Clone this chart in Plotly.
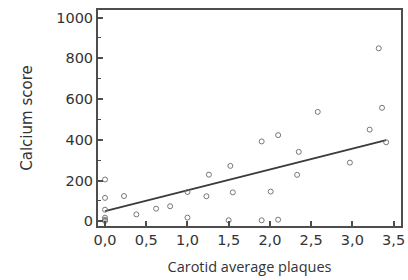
import plotly.graph_objects as go

# Scatter data: carotid average plaques vs calcium score
plaques = [0.0, 0.0, 0.0, 0.0, 0.0, 0.0, 0.23, 0.38, 0.62, 0.79, 1.0, 1.0,
           1.23, 1.26, 1.50, 1.52, 1.55, 1.90, 1.90, 2.01, 2.10, 2.10,
           2.33, 2.35, 2.58, 2.97, 3.21, 3.32, 3.36, 3.41]
calcium = [205, 115, 57, 18, 8, 2, 124, 34, 62, 74, 144, 18,
           123, 229, 5, 272, 142, 392, 5, 146, 423, 8,
           228, 341, 537, 288, 450, 849, 557, 388]

# Regression line endpoints
fit_x = [0.0, 3.41]
fit_y = [50, 398]

x_ticks = [0.0, 0.5, 1.0, 1.5, 2.0, 2.5, 3.0, 3.5]
y_ticks = [0, 200, 400, 600, 800, 1000]

fig = go.Figure()
fig.add_trace(go.Scatter(x=fit_x, y=fit_y, mode="lines",
                         line=dict(color="#3a3a3a", width=1.8), showlegend=False))
fig.add_trace(go.Scatter(x=plaques, y=calcium, mode="markers",
                         marker=dict(symbol="circle-open", size=5,
                                     color="#777777", line=dict(width=1)),
                         showlegend=False))

axis_common = dict(showgrid=False, zeroline=False, showline=True, mirror=True,
                   linecolor="#4d4d4d", linewidth=2, ticks="inside",
                   tickcolor="#4d4d4d", tickwidth=2, ticklen=5, automargin=False,
                   tickfont=dict(family="DejaVu Sans", size=14.5, color="#333333"))

fig.update_layout(
    width=408, height=280,
    margin=dict(l=98, r=7, t=10, b=54),
    paper_bgcolor="white", plot_bgcolor="white",
    separators=",.",
    xaxis=dict(range=[-0.085, 3.59], tickvals=x_ticks, tickformat=".1f",
               title=dict(text="Carotid average plaques", standoff=14,
                          font=dict(family="Open Sans", size=14.5, color="#333333")),
               **axis_common),
    yaxis=dict(range=[-23, 1037], tickvals=y_ticks,
               minor=dict(tickvals=[100, 300, 500, 700, 900], ticks="inside",
                          ticklen=3, tickcolor="#4d4d4d", tickwidth=1),
               title=dict(text="Calcium score", standoff=20,
                          font=dict(family="DejaVu Sans", size=15, color="#333333")),
               **axis_common),
)

fig.write_html("out.html", config={"displayModeBar": False},
               post_script="document.body.style.margin='0';document.body.style.overflow='hidden';")
